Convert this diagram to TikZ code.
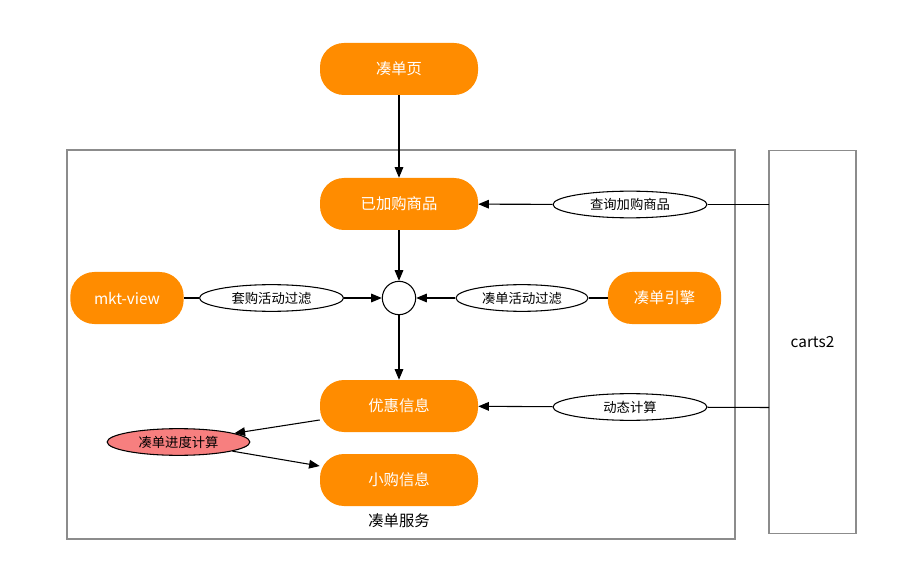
\documentclass[tikz,border=0pt]{standalone}
\usepackage{fontspec}
\setmainfont{Noto Sans CJK SC}
\usetikzlibrary{arrows.meta,shapes.geometric}
\definecolor{orng}{HTML}{FF8C00}
\definecolor{salmon}{HTML}{F77F7F}
\definecolor{frame}{HTML}{8C8C8C}
\begin{document}
\begin{tikzpicture}[x=0.75pt,y=-0.75pt,
  obox/.style={draw=none,fill=orng,rounded corners=18pt,text=white,font=\fontsize{11.5}{13}\selectfont,minimum width=118.5pt,minimum height=39pt,inner sep=0pt},
  sbox/.style={obox,minimum width=85pt},
  lab/.style={draw,ellipse,thick,fill=white,font=\fontsize{10}{12}\selectfont,inner sep=0pt,minimum height=20pt},
  arr/.style={-{Triangle[length=8pt,width=6.5pt]},thick},
  ln/.style={thick}
]
\useasboundingbox (0,0) rectangle (904,581);
\draw[frame,thick] (67,150) rectangle (735,539);
\node[draw=frame,thick,minimum width=65.25pt,minimum height=287pt,inner sep=0pt,font=\fontsize{11.5}{13}\selectfont] (carts) at (812.5,342) {carts2};
\node[obox] (page) at (399,69) {凑单页};
\node[obox] (added) at (399,204) {已加购商品};
\node[draw,circle,thick,minimum size=25pt,inner sep=0pt] (c) at (399,298) {};
\node[sbox] (mkt) at (127,298) {mkt-view};
\node[sbox] (engine) at (664.5,298) {凑单引擎};
\node[obox] (disc) at (399,406) {优惠信息};
\node[obox] (small) at (399,480) {小购信息};
\node[font=\fontsize{11.5}{13}\selectfont] (svc) at (399,521) {凑单服务};

\node[lab,minimum width=108pt] (f1) at (271.5,298) {套购活动过滤};
\node[lab,minimum width=99pt] (f2) at (522,298) {凑单活动过滤};
\node[lab,minimum width=115.5pt] (q) at (630,204.5) {查询加购商品};
\node[lab,minimum width=115.5pt] (dyn) at (630,407) {动态计算};
\node[lab,minimum width=107pt,fill=salmon] (prog) at (178.5,442) {凑单进度计算};

\coordinate (cq) at (769,204.5);
\coordinate (cd) at (769,407.5);

\draw[arr] (page) -- (added);
\draw[arr] (added) -- (c);
\draw[arr] (c) -- (disc);
\draw[ln] (mkt) -- (f1);
\draw[arr] (f1) -- (c);
\draw[ln] (engine) -- (f2);
\draw[arr] (f2) -- (c);
\draw[ln] (cq) -- (q);
\draw[arr] (q) -- (added);
\draw[ln] (cd) -- (dyn);
\draw[arr] (dyn) -- (disc);
\draw[arr] (disc.190) -- (prog);
\draw[arr] (prog) -- (small.170);
\end{tikzpicture}
\end{document}
